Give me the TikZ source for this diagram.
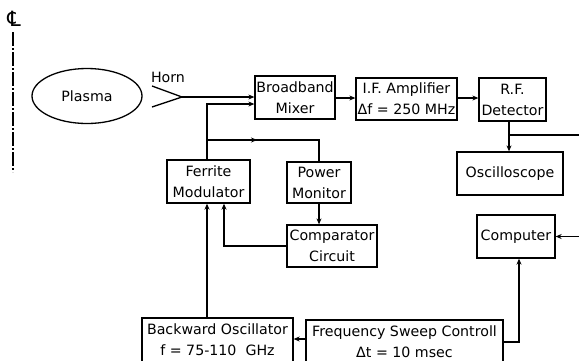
\documentclass[tikz,border=0pt]{standalone}
\usepackage{fontspec}
\setmainfont{DejaVu Sans}
\usetikzlibrary{arrows.meta, positioning, shapes.geometric}

\begin{document}
\begin{tikzpicture}[
  x=1pt, y=-1pt,
  font=\fontsize{14.2}{21}\selectfont,
  blk/.style={draw, line width=1.3pt, align=center, inner sep=1pt},
  wire/.style={line width=1.3pt},
  arr/.style={-{Stealth[length=6pt, width=5pt]}, line width=1.3pt}
]
  \clip (0,0) rectangle (579,360);

  % centre line and plasma
  \node[inner sep=0pt, font=\fontsize{21}{21}\selectfont] (cl) at (14,19) {℄};
  \draw[wire, dash pattern=on 14pt off 2pt on 2pt off 2pt] (13,32) -- (13,172);
  \node[draw, ellipse, line width=1.3pt, minimum width=110pt, minimum height=55pt] (plasma) at (87,96) {Plasma};

  % horn
  \coordinate (hornA) at (152,86);
  \coordinate (hornB) at (152,107);
  \coordinate (horn) at (182,97);
  \node (hornlbl) at (168,77) {Horn};
  \draw[wire] (hornA) -- (horn) -- (hornB);

  % receiver chain
  \node[blk, minimum width=80pt, minimum height=43pt] (mixer) at (295,97.5) {Broadband\\Mixer};
  \node[blk, minimum width=101pt, minimum height=42pt] (ifamp) at (406.5,99) {I.F. Amplifier\\Δf = 250 MHz};
  \node[blk, minimum width=67pt, minimum height=43pt] (rfdet) at (512.5,99.5) {R.F.\\Detector};
  \node[blk, minimum width=106pt, minimum height=43pt] (osc) at (510,173.5) {Oscilloscope};
  \node[blk, minimum width=78pt, minimum height=43pt] (computer) at (516,236.5) {Computer};

  % source side
  \node[blk, minimum width=83pt, minimum height=43pt] (ferrite) at (208.5,181.5) {Ferrite\\Modulator};
  \node[blk, minimum width=64pt, minimum height=41pt] (power) at (319,182.5) {Power\\Monitor};
  \node[blk, minimum width=90pt, minimum height=42pt] (comp) at (332,246) {Comparator\\Circuit};
  \node[blk, minimum width=151pt, minimum height=44pt] (bwo) at (217.5,340) {Backward Oscillator\\f = 75-110~ GHz};
  \node[blk, minimum width=197pt, minimum height=44pt] (fsc) at (404.5,342) {Frequency Sweep Controll\\Δt = 10 msec};

  \coordinate (fup) at (207,104);
  \coordinate (fbr) at (207,140);
  \coordinate (rtap) at (509,135);
  \coordinate (redge) at (590,135);
  \coordinate (fscout) at (519,342);

  \draw[arr] (horn) -- (horn -| mixer.west);
  \draw[arr] (fup |- ferrite.north) -- (fup) -- (fup -| mixer.west);
  \draw[arr] (fbr) -- ++(50,0);
  \draw[wire] (fbr) -| (power.north);
  \draw[arr] (mixer.east |- 0,98) -- (ifamp.west |- 0,98);
  \draw[arr] (ifamp.east |- 0,98) -- (rfdet.west |- 0,98);
  \draw[arr] (rtap |- rfdet.south) -- (rtap |- osc.north);
  \draw[arr] (rtap) -- (redge) |- (computer.east);
  \draw[arr] (power.south) -- (power.south |- comp.north);
  \draw[arr] (comp.west) -| (224,0 |- ferrite.south);
  \draw[arr] (fup |- bwo.north) -- (fup |- ferrite.south);
  \draw[arr] (fsc.west |- 0,339) -- (bwo.east |- 0,339);
  \draw[arr] (fsc.east |- fscout) -- (fscout) -- (fscout |- computer.south);
\end{tikzpicture}
\end{document}
